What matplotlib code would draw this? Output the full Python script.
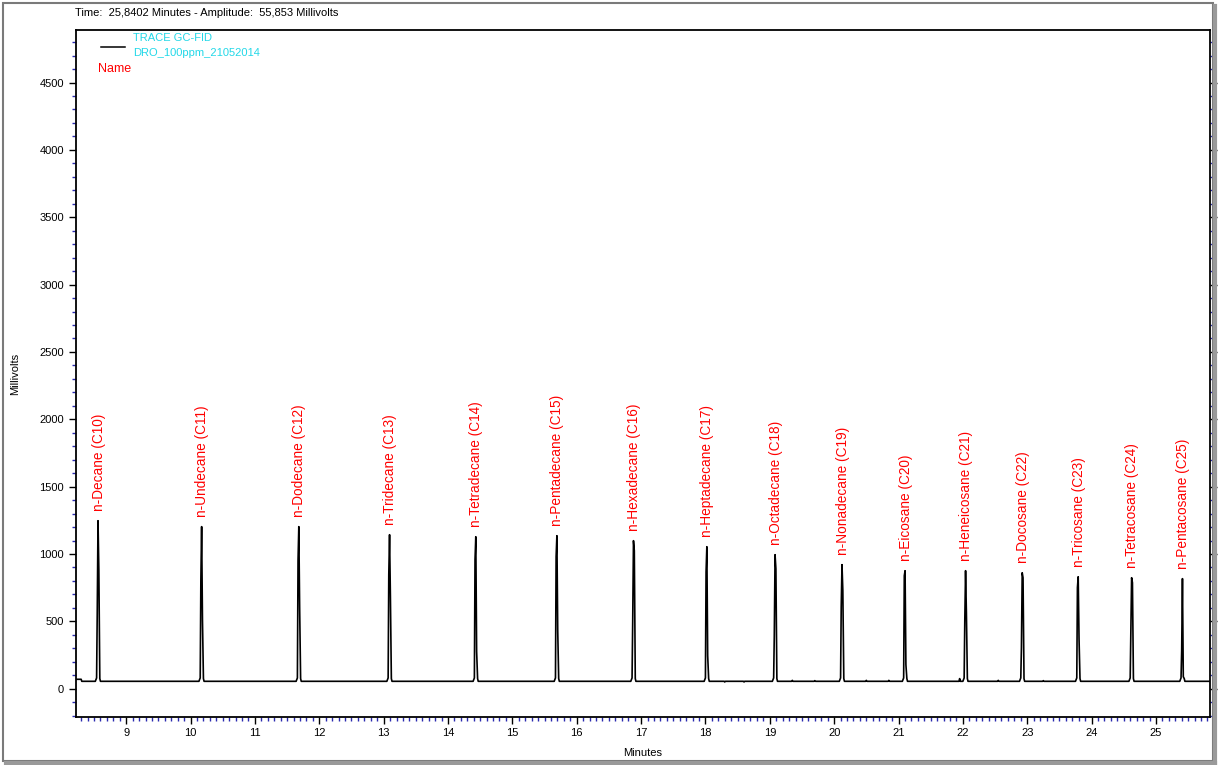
import numpy as np
import matplotlib.pyplot as plt
from matplotlib.patches import Rectangle
from matplotlib.lines import Line2D
from matplotlib.ticker import MultipleLocator

plt.rcParams['font.family'] = ['Liberation Sans', 'DejaVu Sans']

# peak table (retention time in min, amplitudes in mV)
names = ["n-Decane (C10)", "n-Undecane (C11)", "n-Dodecane (C12)", "n-Tridecane (C13)",
         "n-Tetradecane (C14)", "n-Pentadecane (C15)", "n-Hexadecane (C16)",
         "n-Heptadecane (C17)", "n-Octadecane (C18)", "n-Nonadecane (C19)",
         "n-Eicosane (C20)", "n-Heneicosane (C21)", "n-Docosane (C22)",
         "n-Tricosane (C23)", "n-Tetracosane (C24)", "n-Pentacosane (C25)"]
rt = [8.57, 10.18, 11.69, 13.10, 14.44, 15.70, 16.89, 18.03,
      19.09, 20.13, 21.11, 22.05, 22.93, 23.80, 24.63, 25.42]
apex = [1247, 1203, 1203, 1143, 1128, 1136, 1099, 1054,
        995, 921, 876, 876, 861, 831, 824, 817]
left_sh = [560, 800, 950, 846, 958, 980, 497, 868,
           393, 609, 839, 505, 304, 750, 408, 282]
right_sh = [880, 510, 600, 690, 275, 430, 1024, 245,
            890, 728, 178, 564, 824, 371, 787, 89]
baseline = 55
# tiny baseline bumps
bump_t = [18.3, 18.6, 19.35, 19.7, 20.5, 20.85, 21.95, 22.55, 23.25]
bump_h = [50, 50, 62, 60, 62, 62, 75, 62, 60]

xmin, xmax = 8.22, 25.84
ymin, ymax = -210, 4890

# build trace
pts = [(xmin, 70), (8.30, 70), (8.31, baseline)]
events = []
for t, a, l, r in zip(rt, apex, left_sh, right_sh):
    events.append((t, [(t - 0.05, baseline), (t - 0.03, baseline + 25), (t - 0.02, l),
                       (t - 0.008, a), (t + 0.005, r), (t + 0.02, baseline + 20),
                       (t + 0.03, baseline)]))
for t, h in zip(bump_t, bump_h):
    events.append((t, [(t - 0.01, baseline), (t, h), (t + 0.01, baseline)]))
events.sort(key=lambda e: e[0])
for _, p in events:
    pts.extend(p)
pts.append((xmax, baseline))
tx = np.array([p[0] for p in pts])
ty = np.array([p[1] for p in pts])

fig = plt.figure(figsize=(12.19, 7.65), dpi=100)
W, H = 1219, 765

# window frame
fig.patches.append(Rectangle((3 / W, 1 - 761 / H), 1210 / W, 758 / H, transform=fig.transFigure,
                             fill=False, edgecolor='#7a7a7a', lw=1.5))
fig.add_artist(Line2D([1215 / W, 1215 / W], [1 - 763 / H, 1 - 6 / H], transform=fig.transFigure,
                      color='#9a9a9a', lw=3))
fig.add_artist(Line2D([6 / W, 1215 / W], [1 - 763 / H, 1 - 763 / H], transform=fig.transFigure,
                      color='#9a9a9a', lw=3))

ax = fig.add_axes([76 / W, 1 - 717 / H, (1210 - 76) / W, (717 - 30) / H])
ax.plot(tx, ty, color='black', lw=1.2)
ax.set_xlim(xmin, xmax)
ax.set_ylim(ymin, ymax)

for t, a, n in zip(rt, apex, names):
    ax.text(t, a + 70, n, rotation=90, ha='center', va='bottom', color='red', fontsize=9.8)

ax.xaxis.set_major_locator(MultipleLocator(1))
ax.xaxis.set_minor_locator(MultipleLocator(0.1))
ax.yaxis.set_major_locator(MultipleLocator(500))
ax.yaxis.set_minor_locator(MultipleLocator(100))
ax.tick_params(which='major', direction='out', length=5, width=1, labelsize=8, color='black')
ax.tick_params(which='minor', direction='out', length=3, width=1, color='#2b2bb0')
ax.tick_params(axis='y', which='both', right=True)
ax.tick_params(axis='x', which='major', pad=3)
ax.set_yticks([t for t in range(0, 4501, 500)])
for s in ax.spines.values():
    s.set_linewidth(1.3)

ax.set_xlabel('Minutes', fontsize=8, labelpad=7)
ax.set_ylabel('Millivolts', fontsize=8, labelpad=14)

fig.text(75 / W, 1 - 13 / H, 'Time:  25,8402 Minutes - Amplitude:  55,853 Millivolts',
         fontsize=8, va='center', ha='left')

# legend
ax.plot([0.022, 0.043], [0.975, 0.975], transform=ax.transAxes, color='black', lw=1.1)
ax.text(0.050, 0.988, 'TRACE GC-FID', transform=ax.transAxes, color='#22d8e8',
        fontsize=8, va='center')
ax.text(0.050, 0.967, 'DRO_100ppm_21052014', transform=ax.transAxes, color='#22d8e8',
        fontsize=8, va='center')
ax.text(0.019, 0.943, 'Name', transform=ax.transAxes, color='red', fontsize=9, va='center')

plt.savefig('out.png', dpi=100)
